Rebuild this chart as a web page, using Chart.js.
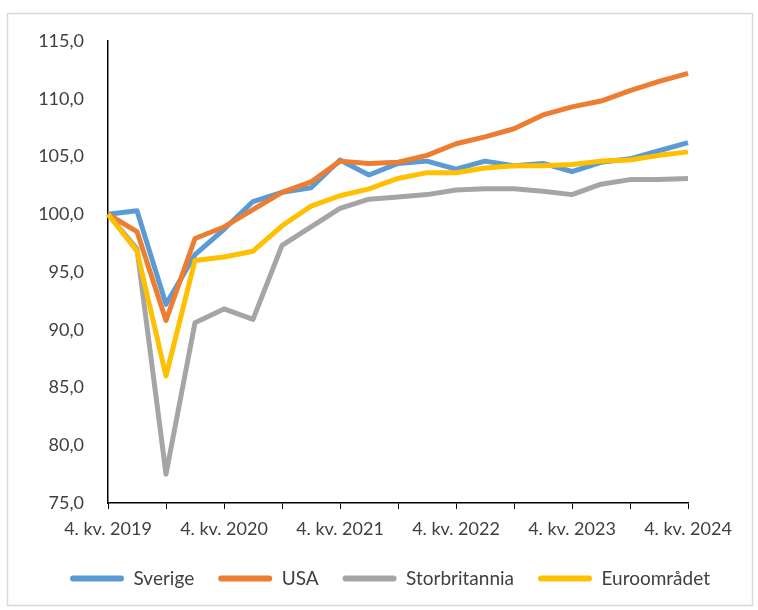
<!DOCTYPE html>
<html>
<head>
<meta charset="utf-8">
<script src="https://cdn.jsdelivr.net/npm/chart.js@4"></script>
<style>
  html, body { margin: 0; padding: 0; background: #fff; }
  #wrap { width: 758px; height: 610px; }
</style>
</head>
<body>
<div id="wrap"><canvas id="chart" width="758" height="610"></canvas></div>
<script>
// kvartal 4. kv. 2019 .. 4. kv. 2024
const quarters = [
    "4. kv. 2019", "1. kv. 2020", "2. kv. 2020", "3. kv. 2020",
    "4. kv. 2020", "1. kv. 2021", "2. kv. 2021", "3. kv. 2021",
    "4. kv. 2021", "1. kv. 2022", "2. kv. 2022", "3. kv. 2022",
    "4. kv. 2022", "1. kv. 2023", "2. kv. 2023", "3. kv. 2023",
    "4. kv. 2023", "1. kv. 2024", "2. kv. 2024", "3. kv. 2024",
    "4. kv. 2024"
];

const sverige = [100.0, 100.3, 92.2, 96.5, 98.7, 101.1, 101.9, 102.3, 104.7, 103.4, 104.4,
    104.6, 103.9, 104.6, 104.2, 104.4, 103.7, 104.5, 104.8, 105.5, 106.2];
const usa = [100.0, 98.5, 90.8, 97.9, 98.9, 100.4, 101.9, 102.8, 104.6, 104.4, 104.5,
    105.1, 106.1, 106.7, 107.4, 108.6, 109.3, 109.8, 110.7, 111.5, 112.2];
const storbritannia = [100.0, 97.0, 77.5, 90.6, 91.8, 90.9, 97.3, 98.9, 100.5, 101.3, 101.5,
    101.7, 102.1, 102.2, 102.2, 102.0, 101.7, 102.6, 103.0, 103.0, 103.1];
const euroomradet = [100.0, 96.8, 86.0, 96.0, 96.3, 96.8, 99.0, 100.7, 101.6, 102.2, 103.1,
    103.6, 103.6, 104.0, 104.2, 104.2, 104.3, 104.6, 104.7, 105.1, 105.4];

const yTicks = { min: 75, max: 115, step: 5 };

const fontFamily = "Lato, 'Open Sans', sans-serif";
const textColor = "#404040";

const mkSet = (label, data, color, order) => ({
    label: label,
    data: data,
    borderColor: color,
    backgroundColor: color,
    borderWidth: 5,
    borderJoinStyle: "round",
    pointRadius: 0,
    tension: 0,
    order: order
});

const frame = {
    id: "frame",
    beforeDraw(chart) {
        const ctx = chart.ctx;
        ctx.save();
        ctx.fillStyle = "#fff";
        ctx.fillRect(0, 0, chart.width, chart.height);
        ctx.strokeStyle = "#d9d9d9";
        ctx.lineWidth = 1.5;
        ctx.strokeRect(7.5, 13.5, 745, 592);
        ctx.restore();
    },
    afterLayout(chart) {
        if (chart.legend) {
            chart.legend.left += 11;
            chart.legend.right += 11;
        }
    }
};

const ctx = document.getElementById("chart");
new Chart(ctx, {
    type: "line",
    data: {
        labels: quarters,
        datasets: [
            mkSet("Sverige", sverige, "#5B9BD5", 3),
            mkSet("USA", usa, "#ED7D31", 2),
            mkSet("Storbritannia", storbritannia, "#A5A5A5", 1),
            mkSet("Euroområdet", euroomradet, "#FFC000", 0)
        ]
    },
    options: {
        responsive: false,
        animation: false,
        layout: { padding: { left: 8, right: 8, top: 41, bottom: 12 } },
        plugins: {
            tooltip: { enabled: false },
            legend: {
                position: "bottom",
                labels: {
                    boxWidth: 54,
                    boxHeight: 6,
                    useBorderRadius: true,
                    borderRadius: 3,
                    padding: 24,
                    color: textColor,
                    font: { family: fontFamily, size: 19 },
                    sort: (a, b) => a.datasetIndex - b.datasetIndex,
                    generateLabels: (chart) =>
                        Chart.defaults.plugins.legend.labels.generateLabels(chart)
                            .map((l) => Object.assign(l, { lineWidth: 0 }))
                }
            }
        },
        scales: {
            x: {
                type: "category",
                offset: false,
                afterBuildTicks: (scale) => {
                    scale.ticks = scale.ticks.filter((t) => t.value % 2 === 0);
                },
                afterFit: (scale) => { scale.height = 42; },
                grid: {
                    display: true,
                    drawOnChartArea: false,
                    drawTicks: true,
                    tickLength: 6,
                    color: "#000"
                },
                border: { display: true, color: "#000", width: 1.5 },
                ticks: {
                    autoSkip: false,
                    maxRotation: 0,
                    padding: 9,
                    color: textColor,
                    font: { family: fontFamily, size: 18 },
                    callback: function (val) {
                        return val % 4 === 0 ? this.getLabelForValue(val) : "";
                    }
                }
            },
            y: {
                min: yTicks.min,
                max: yTicks.max,
                afterFit: (scale) => { scale.width = 100; },
                grid: { display: false, drawTicks: false },
                border: { display: true, color: "#000", width: 1.5 },
                ticks: {
                    stepSize: yTicks.step,
                    padding: 24,
                    color: textColor,
                    font: { family: fontFamily, size: 18 },
                    callback: (v) => v.toFixed(1).replace(".", ",")
                }
            },
            // empty right-hand axis, only keeps the plot clear of the right edge
            spacer: {
                type: "linear",
                position: "right",
                afterFit: (scale) => { scale.width = 62; },
                grid: { display: false, drawTicks: false },
                border: { display: false },
                ticks: { display: false }
            }
        }
    },
    plugins: [frame]
});
</script>
</body>
</html>
